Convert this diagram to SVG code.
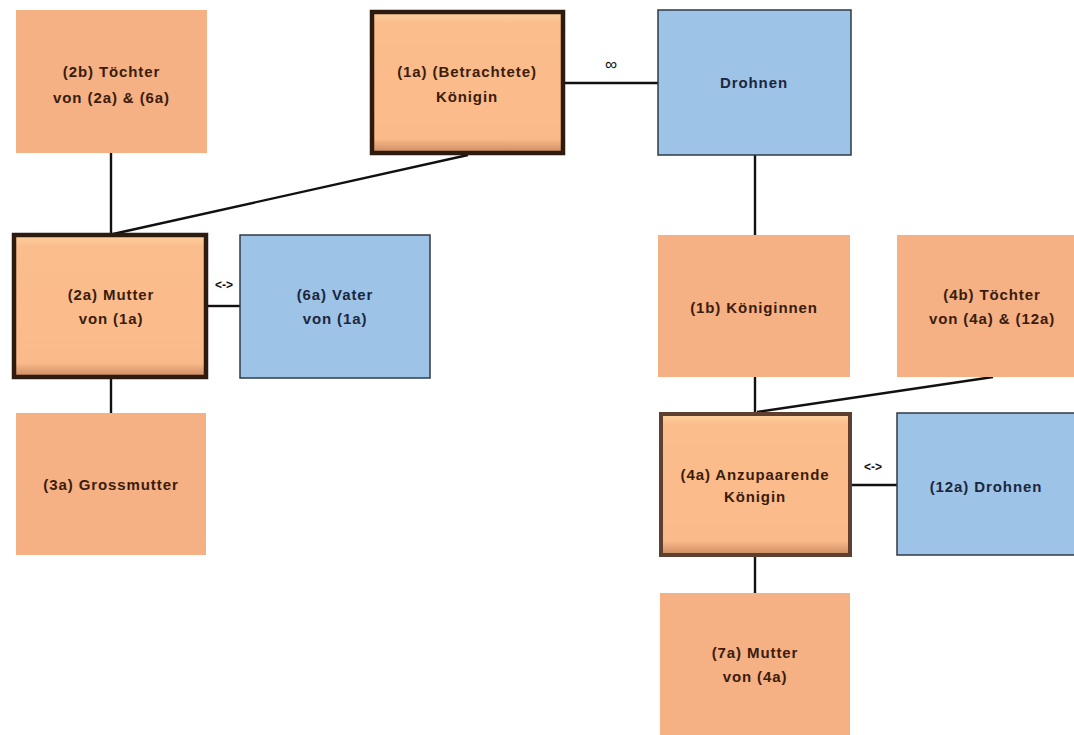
<svg xmlns="http://www.w3.org/2000/svg" width="1074" height="735" viewBox="0 0 1074 735">
<defs>
<linearGradient id="bevelO" x1="0" y1="0" x2="0" y2="1">
<stop offset="0" stop-color="#fdd29f"/>
<stop offset="0.08" stop-color="#fbbd8c"/>
<stop offset="0.9" stop-color="#fbba8a"/>
<stop offset="1" stop-color="#c98a60"/>
</linearGradient>
<style>
.o{fill:#f5b084}
.b{fill:#9dc3e6;stroke:#2f3a46;stroke-width:1.5}
.k{fill:url(#bevelO);stroke:#2e1b0f;stroke-width:4.5}
.k2{fill:url(#bevelO);stroke:#5e4030;stroke-width:4}
text{font-family:"Liberation Sans",Arial,sans-serif;font-size:15px;font-weight:bold;text-anchor:middle;letter-spacing:0.9px}
.to{fill:#3a1c0c}
.tb{fill:#1b2640}
.lbl{font-size:12px;fill:#111;letter-spacing:0}
.inf{font-size:17px;font-weight:normal}
.c{stroke:#111;stroke-width:2.4;fill:none}
</style>
</defs>
<rect width="1074" height="735" fill="#fff"/>
<g id="connectors">
<line class="c" x1="111" y1="153" x2="111" y2="234"/>
<line class="c" x1="468" y1="155" x2="113" y2="234"/>
<line class="c" x1="565" y1="83" x2="658" y2="83"/>
<line class="c" x1="755" y1="155" x2="755" y2="235"/>
<line class="c" x1="208" y1="306" x2="240" y2="306"/>
<line class="c" x1="111" y1="379" x2="111" y2="413"/>
<line class="c" x1="755" y1="377" x2="755" y2="412"/>
<line class="c" x1="993" y1="377" x2="757" y2="412"/>
<line class="c" x1="852" y1="485" x2="897" y2="485"/>
<line class="c" x1="755" y1="557" x2="755" y2="593"/>
<text class="lbl inf" x="611" y="70">∞</text>
<text class="lbl" x="224" y="289">&lt;-&gt;</text>
<text class="lbl" x="873" y="471">&lt;-&gt;</text>
</g>
<g id="n2b"><rect class="o" x="16" y="10" width="191" height="143"/>
<text class="to" x="111.5" y="77">(2b) Töchter</text><text class="to" x="111.5" y="103">von (2a) &amp; (6a)</text></g>
<g id="n1a"><rect class="k" x="372" y="12" width="191" height="141"/>
<text class="to" x="467" y="77">(1a) (Betrachtete)</text><text class="to" x="467" y="102">Königin</text></g>
<g id="nDrohnen"><rect class="b" x="658" y="10" width="193" height="145"/>
<text class="tb" x="754" y="88">Drohnen</text></g>
<g id="n2a"><rect class="k" x="14" y="235" width="192" height="142"/>
<text class="to" x="111" y="300">(2a) Mutter</text><text class="to" x="111" y="324">von (1a)</text></g>
<g id="n6a"><rect class="b" x="240" y="235" width="190" height="143"/>
<text class="tb" x="335" y="300">(6a) Vater</text><text class="tb" x="335" y="324">von (1a)</text></g>
<g id="n3a"><rect class="o" x="16" y="413" width="190" height="142"/>
<text class="to" x="111" y="490">(3a) Grossmutter</text></g>
<g id="n1b"><rect class="o" x="658" y="235" width="192" height="142"/>
<text class="to" x="754" y="313">(1b) Königinnen</text></g>
<g id="n4b"><rect class="o" x="897" y="235" width="177" height="142"/>
<text class="to" x="992" y="300">(4b) Töchter</text><text class="to" x="992" y="324">von (4a) &amp; (12a)</text></g>
<g id="n4a"><rect class="k2" x="661" y="414" width="189" height="141"/>
<text class="to" x="755" y="480">(4a) Anzupaarende</text><text class="to" x="755" y="502">Königin</text></g>
<g id="n12a"><rect class="b" x="897" y="413" width="178" height="142"/>
<text class="tb" x="986" y="492">(12a) Drohnen</text></g>
<g id="n7a"><rect class="o" x="660" y="593" width="190" height="142"/>
<text class="to" x="755" y="658">(7a) Mutter</text><text class="to" x="755" y="682">von (4a)</text></g>
</svg>
